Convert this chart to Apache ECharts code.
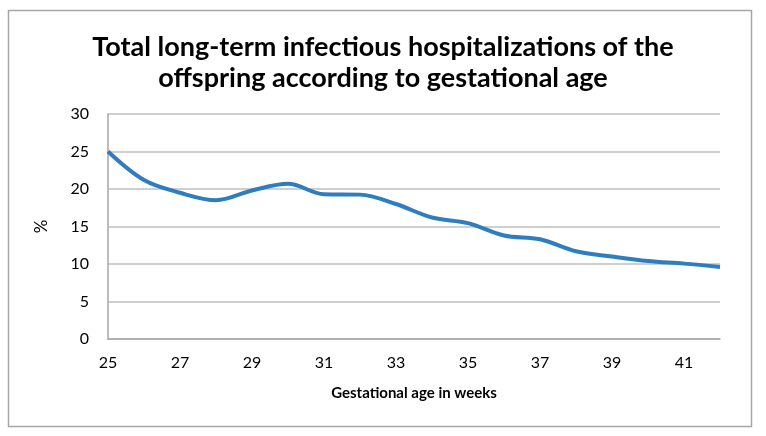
<!DOCTYPE html>
<html><head><meta charset="utf-8">
<script src="https://cdn.jsdelivr.net/npm/echarts@6/dist/echarts.min.js"></script>
<style>html,body{margin:0;padding:0;background:#fff}#c{width:766px;height:436px}</style>
</head><body><div id="c"></div>
<script>
const weeks = ['25','26','27','28','29','30','31','32','33','34','35','36','37','38','39','40','41','42'];
const percent = [25.0,21.2,19.5,18.5,19.8,20.7,19.3,19.25,18.0,16.2,15.45,13.8,13.3,11.7,11.0,10.4,10.05,9.6];
const yTicks = [0,5,10,15,20,25,30];
const titleText = 'Total long-term infectious hospitalizations of the\noffspring according to gestational age';
const xName = 'Gestational age in weeks';
const yName = '%';

const chart = echarts.init(document.getElementById('c'), null, {renderer:'canvas'});
chart.setOption({
  animation:false,
  graphic:[{type:'rect',shape:{x:8.5,y:10.5,width:743,height:416},style:{fill:'none',stroke:'#a6a6a6',lineWidth:1.5}}],
  title:{text:titleText,left:'center',top:27,textStyle:{fontFamily:'Lato',fontWeight:'bold',fontSize:27,lineHeight:31,color:'#000'}},
  grid:{left:108,right:46,top:114,bottom:97},
  xAxis:{type:'category',data:weeks,boundaryGap:false,
    name:xName,nameLocation:'middle',nameGap:47,
    nameTextStyle:{fontFamily:'Lato',fontWeight:'bold',fontSize:15,color:'#000'},
    axisLine:{lineStyle:{color:'#a6a6a6',width:1.5}},axisTick:{show:false},
    axisLabel:{interval:1,margin:16,fontFamily:'Lato',fontSize:16,color:'#000'},
    splitLine:{show:false}},
  yAxis:{type:'value',min:yTicks[0],max:yTicks[yTicks.length-1],interval:5,
    name:yName,nameLocation:'middle',nameGap:58,nameRotate:90,
    nameTextStyle:{fontFamily:'Lato',fontSize:17,color:'#000'},
    axisLine:{show:true,lineStyle:{color:'#a6a6a6',width:1.5}},axisTick:{show:false},
    axisLabel:{margin:19,fontFamily:'Lato',fontSize:16,color:'#000'},
    splitLine:{lineStyle:{color:'#bfbfbf',width:1.5}}},
  series:[{type:'line',data:percent,smooth:0.35,symbol:'none',
    lineStyle:{color:'#2e7dbf',width:4}}]
});
</script></body></html>
